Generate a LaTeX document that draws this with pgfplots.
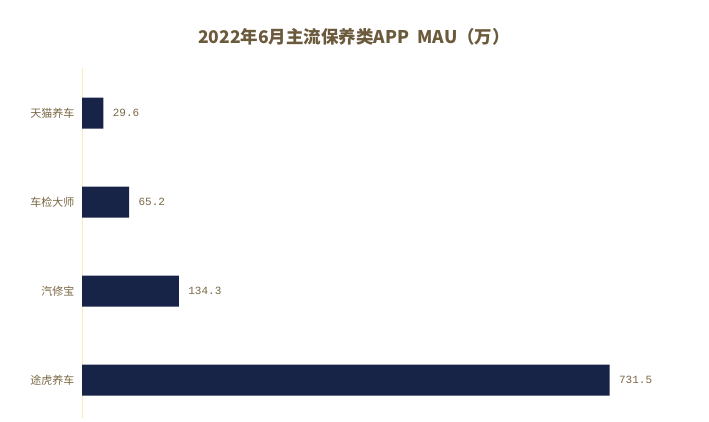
\documentclass[border=0pt]{standalone}
\usepackage{pgfplots}
\pgfplotsset{compat=1.18}
\usepackage{fontspec}
\setmainfont{Noto Sans CJK SC}
\newfontfamily\monofont{Liberation Mono}

\definecolor{barblue}{HTML}{172447}
\definecolor{titlebrown}{HTML}{6B5A3C}
\definecolor{labelbrown}{HTML}{7A6845}
\definecolor{axisyellow}{HTML}{FCEBB8}

\begin{document}
\begin{tikzpicture}[x=1pt,y=1pt]
\useasboundingbox (0,0) rectangle (709,421);
\node[font=\bfseries\fontsize{17.5}{20}\selectfont, text=titlebrown] at (354,384) {2022年6月主流保养类APP\ \ MAU（万）};
\begin{axis}[
    at={(82pt,3pt)}, anchor=south west,
    scale only axis,
    width=577pt, height=350pt,
    xbar, bar width=31pt,
    xmin=0, xmax=800,
    ymin=-0.506, ymax=3.427,
    y dir=reverse,
    ytick={0,1,2,3},
    yticklabels={天猫养车,车检大师,汽修宝,途虎养车},
    axis x line=none,
    axis y line*=left,
    y axis line style={draw=axisyellow, line width=0.8pt},
    ytick style={draw=none},
    major tick length=0pt,
    yticklabel style={font=\fontsize{11}{13}\selectfont, text=labelbrown, xshift=-4pt},
    nodes near coords,
    point meta=explicit symbolic,
    nodes near coords style={font=\monofont\fontsize{11}{13}\selectfont, text=labelbrown, anchor=west, xshift=6pt},
  ]
  % MAU in 10k
  \addplot[fill=barblue, draw=none] coordinates {
    (29.6,0) [29.6]
    (65.2,1) [65.2]
    (134.3,2) [134.3]
    (731.5,3) [731.5]
  };
\end{axis}
\end{tikzpicture}
\end{document}
